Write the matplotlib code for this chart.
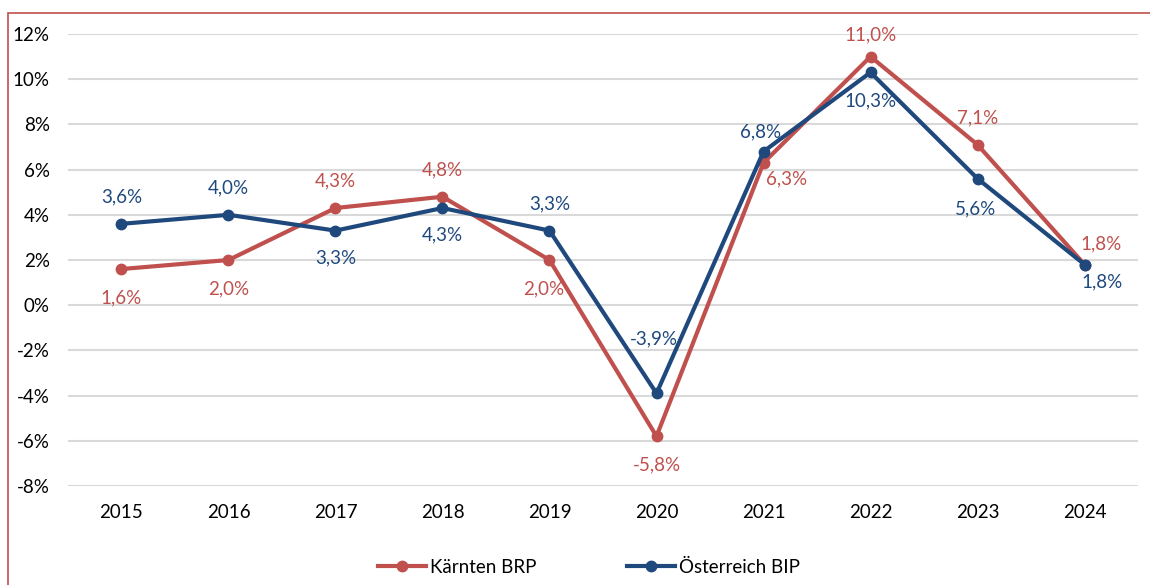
import matplotlib.pyplot as plt
from matplotlib.patches import Rectangle

plt.rcParams['font.family'] = ['Lato', 'DejaVu Sans']

# Wachstumsraten in %
jahre = ['2015', '2016', '2017', '2018', '2019', '2020', '2021', '2022', '2023', '2024']
kaernten = [1.6, 2.0, 4.3, 4.8, 2.0, -5.8, 6.3, 11.0, 7.1, 1.8]
oesterreich = [3.6, 4.0, 3.3, 4.3, 3.3, -3.9, 6.8, 10.3, 5.6, 1.8]

# label offsets (pixels) for the data labels
off_k = [(0, -29), (0, -29), (0, 27), (0, 27), (-6, -29), (0, -29), (23, -16), (0, 22), (0, 27), (17, 21)]
off_o = [(0, 27), (0, 27), (0, -27), (0, -27), (0, 27), (-3, 54), (-3, 20), (0, -28), (-2, -30), (18, -17)]

red = '#C0504D'
blue = '#1F497D'

fig = plt.figure(figsize=(11.5, 5.85), dpi=100)
ax = fig.add_axes([0.0591, 0.1692, 0.9305, 0.7727])

x = range(len(jahre))
ax.plot(x, kaernten, color=red, lw=3, marker='o', ms=7.5, label='Kärnten BRP', zorder=3)
ax.plot(x, oesterreich, color=blue, lw=3, marker='o', ms=7.5, label='Österreich BIP', zorder=4)

def fmt(v):
    return f'{v:.1f}%'.replace('.', ',')

for i in x:
    ax.annotate(fmt(kaernten[i]), (i, kaernten[i]), xytext=off_k[i], textcoords='offset pixels',
                ha='center', va='center', color=red, fontsize=13.5)
    ax.annotate(fmt(oesterreich[i]), (i, oesterreich[i]), xytext=off_o[i], textcoords='offset pixels',
                ha='center', va='center', color=blue, fontsize=13.5)

ax.set_xlim(-0.5, 9.5)
ax.set_ylim(-8, 12)
ax.set_yticks(range(-8, 13, 2))
ax.set_yticklabels([f'{t}%' for t in range(-8, 13, 2)])
ax.set_xticks(list(x))
ax.set_xticklabels(jahre)
ax.tick_params(length=0, labelsize=13.5)
ax.tick_params(axis='y', pad=13)
ax.tick_params(axis='x', pad=13)
ax.grid(axis='y', color='#D9D9D9', lw=1.5)
ax.set_axisbelow(True)
for s in ax.spines.values():
    s.set_visible(False)

fig.legend(loc='center', bbox_to_anchor=(0.512, 0.03), ncol=2, frameon=False,
           fontsize=13.5, handlelength=2.6, columnspacing=4.8, handletextpad=0.2)

fig.patches.append(Rectangle((8 / 1150, -0.1), 1.2, 1 - 13 / 585 + 0.1, transform=fig.transFigure,
                             fill=False, edgecolor=red, lw=1.2, clip_on=False))

fig.savefig('out.png', dpi=100)
